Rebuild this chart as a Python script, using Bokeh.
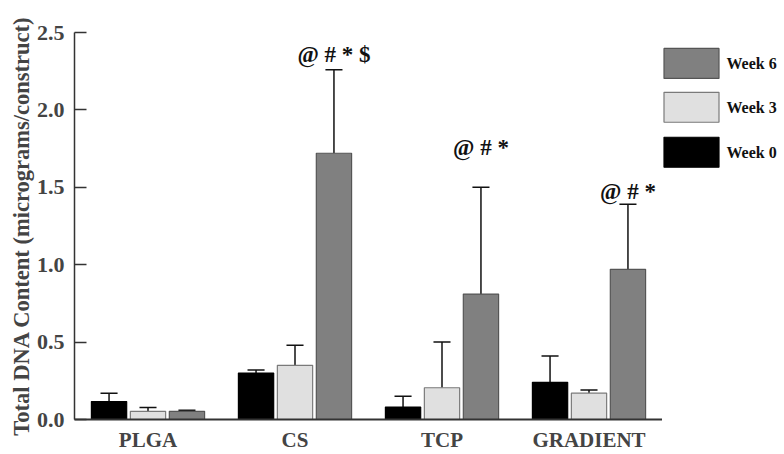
from bokeh.plotting import figure
from bokeh.layouts import row
from bokeh.models import ColumnDataSource, FactorRange, Range1d, CustomJSTickFormatter
from bokeh.transform import dodge
from bokeh.embed import file_html
from bokeh.resources import INLINE
from bokeh.core.properties import value

groups = ["PLGA", "CS", "TCP", "GRADIENT"]
week0 = [0.116, 0.30, 0.08, 0.24]
week0_err = [0.17, 0.32, 0.15, 0.41]
week3 = [0.053, 0.35, 0.205, 0.17]
week3_err = [0.077, 0.48, 0.50, 0.19]
week6 = [0.053, 1.72, 0.81, 0.97]
week6_err = [0.06, 2.26, 1.50, 1.39]
notes = ["", "@ # * $", "@ # *", "@ # *"]
note_y = [0.0, 2.36, 1.76, 1.47]
legend_labels = ["Week 6", "Week 3", "Week 0"]

FONT = "Liberation Serif"
COLORS = {"Week 0": ("#000000", "#000000"), "Week 3": ("#e0e0e0", "#7a7a7a"), "Week 6": ("#808080", "#555555")}

src = ColumnDataSource(dict(g=groups, w0=week0, e0=week0_err, w3=week3, e3=week3_err,
                            w6=week6, e6=week6_err, note=notes, ny=note_y))

p = figure(x_range=FactorRange(*groups, range_padding=0), y_range=Range1d(0, 2.5),
           width=662, height=454, output_backend="svg", toolbar_location=None,
           min_border_left=74, min_border_top=32, min_border_right=0, min_border_bottom=34)

OFF = 0.265
W = 0.24
CAP = 0.058
series = [("w0", "e0", -OFF, "Week 0"), ("w3", "e3", 0.0, "Week 3"), ("w6", "e6", OFF, "Week 6")]
for col, ecol, off, name in series:
    fill, line = COLORS[name]
    p.segment(x0=dodge("g", off, range=p.x_range), y0=col, x1=dodge("g", off, range=p.x_range), y1=ecol,
              source=src, line_color="#111111", line_width=1.5)
    p.segment(x0=dodge("g", off - CAP, range=p.x_range), y0=ecol, x1=dodge("g", off + CAP, range=p.x_range), y1=ecol,
              source=src, line_color="#111111", line_width=1.5)
    p.vbar(x=dodge("g", off, range=p.x_range), top=col, width=W, source=src,
           fill_color=fill, line_color=line, line_width=1.2)

p.text(x=dodge("g", OFF, range=p.x_range), y="ny", text="note", source=src,
       text_font=value(FONT), text_font_style="bold", text_font_size="23px",
       text_align="center", text_baseline="middle", text_color="#111111")

p.grid.visible = False
p.outline_line_color = None

p.yaxis.ticker = [0.0, 0.5, 1.0, 1.5, 2.0, 2.5]
p.yaxis.formatter = CustomJSTickFormatter(code="return tick.toFixed(1);")
p.yaxis.axis_label = "Total DNA Content (micrograms/construct)"
p.yaxis.axis_label_text_font = FONT
p.yaxis.axis_label_text_font_style = "bold"
p.yaxis.axis_label_text_font_size = "22.5px"
p.yaxis.axis_label_standoff = 0
p.yaxis.major_label_text_font = FONT
p.yaxis.major_label_text_font_style = "bold"
p.yaxis.major_label_text_font_size = "22px"
p.yaxis.major_tick_in = 12
p.yaxis.major_tick_out = 0
p.yaxis.minor_tick_in = 0
p.yaxis.minor_tick_out = 0
p.yaxis.major_label_standoff = 10
p.yaxis.axis_line_width = 1.5
p.yaxis.major_tick_line_width = 1.5

p.xaxis.major_label_text_font = FONT
p.xaxis.major_label_text_font_style = "bold"
p.xaxis.major_label_text_font_size = "21px"
p.xaxis.major_tick_in = 0
p.xaxis.major_tick_out = 0
p.xaxis.major_label_standoff = 8
p.xaxis.axis_line_width = 2
p.xaxis.axis_line_color = "#333333"
p.yaxis.axis_line_color = "#333333"
p.yaxis.major_tick_line_color = "#333333"

# Legend panel: a small figure whose frame is aligned with the main frame;
# its y range is set so that data units equal page pixels.
lg = figure(width=122, height=454, x_range=Range1d(0, 122), y_range=Range1d(420, 32),
            output_backend="svg", toolbar_location=None, min_border=0,
            min_border_top=32, min_border_bottom=34)
lg.axis.visible = False
lg.grid.visible = False
lg.outline_line_color = None
lg_src = ColumnDataSource(dict(
    label=legend_labels,
    fill=[COLORS[k][0] for k in legend_labels],
    line=[COLORS[k][1] for k in legend_labels],
    y=[63, 107, 152],
))
lg.rect(x=29, y="y", width=55, height=30, source=lg_src, fill_color="fill", line_color="line", line_width=1.2)
lg.text(x=64, y="y", text="label", source=lg_src, text_font=value(FONT), text_font_style="bold",
        text_font_size="16px", text_baseline="middle", text_align="left", text_color="#111111")

layout = row(p, lg)
open("out.html", "w").write(file_html(layout, INLINE))
